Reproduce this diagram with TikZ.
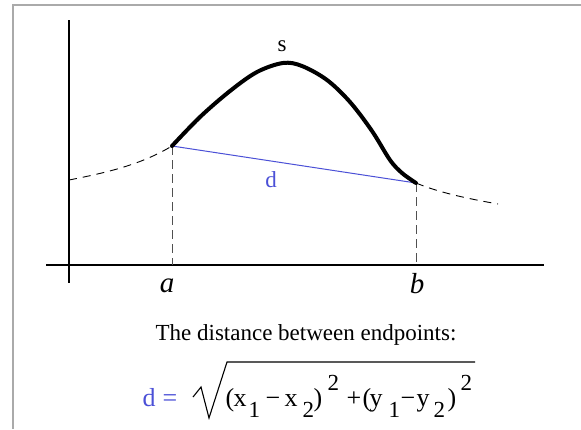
\documentclass[tikz,border=0pt]{standalone}
\usepackage{fontspec}
\setmainfont{Liberation Serif}
\definecolor{dblue}{RGB}{75,80,215}
\definecolor{framegray}{RGB}{170,170,170}
\definecolor{dashgray}{RGB}{80,80,80}
\newcommand{\gl}[3]{\makebox[0pt][l]{\hspace{#1pt}\raisebox{#2pt}{#3}}}
\newcommand{\smallfs}{\fontsize{23}{26}\selectfont}
\begin{document}
\begin{tikzpicture}[x=1pt,y=-1pt,
  axis/.style={line width=1.1pt,black},
  drop/.style={dashgray,line width=0.9pt,dash pattern=on 9pt off 5pt},
  curvedash/.style={black,line width=0.9pt,dash pattern=on 8pt off 6pt},
  scurve/.style={black,line width=4pt,line cap=round,line join=round},
  chord/.style={dblue,line width=1pt},
  lbl/.style={inner sep=0pt,font=\fontsize{23}{27}\selectfont},
  flbl/.style={inner sep=0pt,font=\fontsize{26}{30}\selectfont}]
\useasboundingbox (0,0) rectangle (581,429);
\fill[white] (0,0) rectangle (581,429);
\draw[framegray,line width=1.6pt] (13,429) -- (13,5) -- (581,5);
% axes
\coordinate (ytop) at (69,20);
\coordinate (ybot) at (69,283);
\coordinate (xl) at (46,265);
\coordinate (xr) at (544,265);
\draw[axis] (ytop) -- (ybot);
\draw[axis] (xl) -- (xr);
% key points
\coordinate (A) at (172,146);
\coordinate (B) at (416,183);
\coordinate (A0) at (172,265);
\coordinate (B0) at (416,265);
\coordinate (L) at (69,180);
\coordinate (R) at (498,204);
\draw[drop] (A) -- (A0);
\draw[drop] (B) -- (B0);
\draw[curvedash] (L) .. controls (110,172) and (142,164) .. (A);
\draw[curvedash] (B) .. controls (440,193) and (470,199) .. (R);
\draw[chord] (A) -- (B);
\draw[scurve] plot[smooth,tension=0.55] coordinates {(172,146) (200,117) (230,91) (257,72) (283,63) (302,66) (327,80) (350,102) (372,131) (390,160) (402,173) (416,183)};
% labels
\node[lbl] (s) at (282,46) {s};
\node[lbl,text=dblue] (d) at (271,180) {d};
\node[inner sep=0pt,font=\fontsize{29}{32}\selectfont] (a) at (167,286) {\itshape a};
\node[inner sep=0pt,font=\fontsize{29}{32}\selectfont] (b) at (417,284) {\itshape b};
\node[lbl,anchor=base] (caption) at (306,340) {The distance between endpoints:};
% formula
\node[flbl,anchor=base west,text=dblue] (dd) at (142,406) {\gl{0}{0}{d}\gl{20}{0}{=}};
\draw[black,line width=1.1pt,line join=miter] (193,397) -- (201,387) -- (209,418) -- (227,362) -- (475,362);
\node[flbl,anchor=base west] (rad) at (225,406) {%
\gl{0}{0}{(}\gl{8}{0}{x}\gl{23}{-11}{\smallfs 1}%
\gl{40}{0}{−}\gl{59}{0}{x}\gl{77}{-11}{\smallfs 2}%
\gl{88}{0}{)}\gl{102}{16}{\smallfs 2}%
\gl{121}{0}{+}\gl{137}{0}{(}\gl{144}{0}{y}\gl{163}{-11}{\smallfs 1}%
\gl{175}{0}{−}\gl{191}{0}{y}\gl{208}{-11}{\smallfs 2}%
\gl{222}{0}{)}\gl{235}{16}{\smallfs 2}};
\end{tikzpicture}
\end{document}
